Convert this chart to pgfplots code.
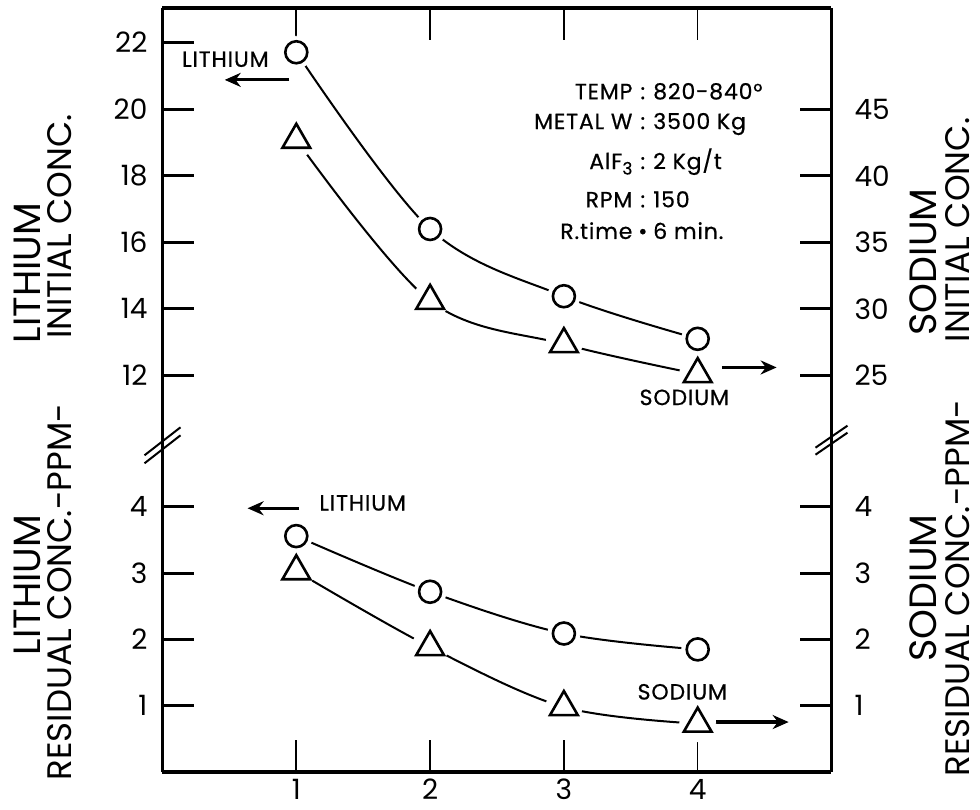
\documentclass[border=0pt]{standalone}
\usepackage{fontspec}
\setmainfont{Poppins}
\newfontfamily\notefont{Poppins}[FakeBold=0.6, LetterSpace=4]
\usepackage{pgfplots}
\usepackage{pgfplotstable}
\pgfplotsset{compat=1.18}
\usetikzlibrary{arrows.meta}

% initial concentration: lithium (left scale), sodium (right scale)
\pgfplotstableread{
x li na
1 21.71 42.7
2 16.40 30.6
3 14.38 27.35
4 13.10 25.1
}\initial
% residual concentration, both on the same 0-5 scale
\pgfplotstableread{
x li na
1 3.56 3.03
2 2.72 1.885
3 2.09 0.98
4 1.85 0.73
}\residual

\pgfplotsset{
  base/.style={scale only axis, width=334.5pt, xmin=0, xmax=5, clip=false,
    tick align=inside, major tick length=16pt,
    xtick={1,2,3,4},
    xtick style={line width=0.8pt, black},
    ytick style={line width=1.5pt, black},
    ticklabel style={font=\fontsize{14}{14}\selectfont},
    /pgf/number format/assume math mode=true},
  nolinearrows/.style={axis line style={line width=1.8pt, -},
    every outer x axis line/.append style={-},
    every outer y axis line/.append style={-}},
  curve/.style={black, line width=1pt, smooth, tension=0.55, mark=none},
  gap/.style={only marks, mark=*, white, mark options={draw=white, fill=white}},
  circ/.style={only marks, mark=o, mark size=5.5pt, mark options={black, line width=1.3pt, fill=white}},
  tri/.style={only marks, mark=triangle, mark size=8pt, mark options={black, line width=1.3pt, fill=white}},
}
\tikzset{
  note/.style={font=\notefont\fontsize{11}{11}\selectfont},
  arr/.style={line width=1.6pt, -{Stealth[length=8pt, width=7pt]}},
}

\newcommand\param[4]{%
  \node[note, anchor=base east] at (axis cs:3.565,#1) {#2};
  \node[note, anchor=base] at (axis cs:3.59,#1) {#3};
  \node[note, anchor=base west] at (axis cs:3.615,#1) {#4};}

\begin{document}
\begin{tikzpicture}
\useasboundingbox (-81.25pt,-18.5pt) rectangle (408.75pt,386pt);

% ---- residual panel, left scale (lithium) ----
\begin{axis}[base, name=bot, at={(0,0)}, anchor=south west, height=165pt,
  ymin=0, ymax=4.98, ytick={1,2,3,4},
  axis x line*=bottom, axis y line*=left, nolinearrows,
  yticklabel style={xshift=-4pt}]
\addplot[curve] table[x=x, y=na] {\residual};
\addplot[curve] table[x=x, y=li] {\residual};
\addplot[gap, mark size=9pt] table[x=x, y=na] {\residual};
\addplot[gap, mark size=8pt] table[x=x, y=li] {\residual};
\addplot[tri] table[x=x, y=na] {\residual};
\addplot[circ] table[x=x, y=li] {\residual};
\node[note, anchor=west] at (axis cs:1.12,4.06) {LITHIUM};
\draw[arr] (axis cs:1.022,3.98) -- (axis cs:0.636,3.98);
\node[note] at (axis cs:3.885,1.21) {SODIUM};
\draw[arr] (axis cs:4.108,0.754) -- (axis cs:4.68,0.754);
% axis break marks
\draw[line width=1pt] (axis cs:0,4.93) ++(-9pt,-9pt) -- ++(18pt,14pt);
\draw[line width=1pt] (axis cs:0,4.93) ++(-9pt,-5pt) -- ++(18pt,14pt);
\draw[line width=1pt] (axis cs:5,5.03) ++(-8pt,-8pt) -- ++(16pt,11pt);
\draw[line width=1pt] (axis cs:5,5.03) ++(-8pt,-4.5pt) -- ++(16pt,11pt);
\end{axis}

% ---- residual panel, right scale (sodium) ----
\begin{axis}[base, at={(0,0)}, anchor=south west, height=165pt,
  ymin=0, ymax=4.98, ytick={1,2,3,4},
  axis x line=none, axis y line*=right, nolinearrows,
  yticklabel style={xshift=8pt}]
\end{axis}

% ---- initial panel, right scale (sodium) ----
\begin{axis}[base, at={(0,165pt)}, anchor=south west, height=217pt,
  ymin=20, ymax=52.6, ytick={25,30,35,40,45},
  axis x line=none, axis y line*=right, nolinearrows,
  yticklabel style={xshift=8pt}]
\addplot[curve] table[x=x, y=na] {\initial};
\addplot[gap, mark size=9pt] table[x=x, y=na] {\initial};
\addplot[tri] table[x=x, y=na] {\initial};
\end{axis}

% ---- initial panel, left scale (lithium) ----
\begin{axis}[base, at={(0,165pt)}, anchor=south west, height=217pt,
  ymin=10, ymax=23.04, ytick={12,14,16,18,20,22}, xticklabels={},
  axis x line*=top, axis y line*=left, nolinearrows,
  yticklabel style={xshift=-4pt}]
\addplot[curve] table[x=x, y=li] {\initial};
\addplot[gap, mark size=8pt] table[x=x, y=li] {\initial};
\addplot[circ] table[x=x, y=li] {\initial};
\node[note] at (axis cs:0.47,21.5) {LITHIUM};
\draw[arr] (axis cs:0.948,20.88) -- (axis cs:0.465,20.88);
\param{20.3}{TEMP}{:}{820-840°}
\param{19.4}{METAL W}{:}{3500 Kg}
\param{18.2}{AlF\raisebox{-0.45ex}{\fontsize{8.5}{8.5}\selectfont 3}}{:}{2 Kg/t}
\param{17.05}{RPM}{:}{150}
\param{16.1}{R.time}{\textbullet}{6 min.}
\node[note] at (axis cs:3.90,11.34) {SODIUM};
\draw[arr] (axis cs:4.18,12.24) -- (axis cs:4.59,12.24);
\end{axis}

% ---- side titles ----
\begin{scope}[every node/.style={rotate=90}]
\node[font=\fontsize{19}{19}\selectfont] at (-67.75pt,93.5pt) {LITHIUM};
\node[font=\fontsize{17}{17}\selectfont] at (-51.25pt,90pt) {RESIDUAL CONC.-PPM-};
\node[font=\fontsize{19}{19}\selectfont] at (-67.75pt,249.5pt) {LITHIUM};
\node[font=\fontsize{17}{17}\selectfont] at (-51.25pt,272.75pt) {INITIAL CONC.};
\node[font=\fontsize{19}{19}\selectfont] at (380.25pt,92pt) {SODIUM};
\node[font=\fontsize{17}{17}\selectfont] at (397.75pt,92pt) {RESIDUAL CONC.-PPM-};
\node[font=\fontsize{19}{19}\selectfont] at (380.25pt,255pt) {SODIUM};
\node[font=\fontsize{17}{17}\selectfont] at (397.75pt,271pt) {INITIAL CONC.};
\end{scope}
\end{tikzpicture}
\end{document}
